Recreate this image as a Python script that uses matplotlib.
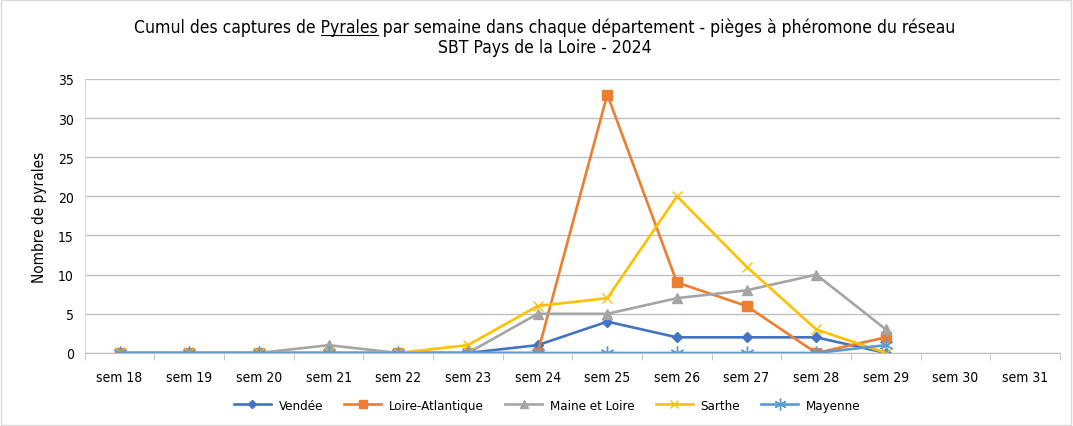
import numpy as np
import matplotlib
matplotlib.use("Agg")
import matplotlib.pyplot as plt
from matplotlib.lines import Line2D

plt.rcParams['font.family'] = ['DejaVu Sans']
plt.rcParams['font.stretch'] = 'condensed'

weeks = ["sem 18", "sem 19", "sem 20", "sem 21", "sem 22", "sem 23", "sem 24",
         "sem 25", "sem 26", "sem 27", "sem 28", "sem 29", "sem 30", "sem 31"]

vendee = [0, 0, 0, 0, 0, 0, 1, 4, 2, 2, 2, 0]
loire_atl = [0, 0, 0, 0, 0, 0, 0, 33, 9, 6, 0, 2]
maine_loire = [0, 0, 0, 1, 0, 0, 5, 5, 7, 8, 10, 3]
sarthe = [0, 0, 0, 0, 0, 1, 6, 7, 20, 11, 3, 0]
mayenne = [0, 0, 0, 0, 0, 0, 0, 0, 0, 0, 0, 1]

series = [
    ("Vendée", vendee, "#4472C4", "D", 5),
    ("Loire-Atlantique", loire_atl, "#ED7D31", "s", 7),
    ("Maine et Loire", maine_loire, "#A5A5A5", "^", 7),
    ("Sarthe", sarthe, "#FFC000", "x", 7),
    ("Mayenne", mayenne, "#5B9BD5", (6, 2, 0), 10),
]

fig = plt.figure(figsize=(10.73, 4.27), dpi=100)
ax = fig.add_axes([0.079, 0.171, 0.909, 0.642])

x = np.arange(len(weeks))
for name, vals, col, mk, ms in series:
    ax.plot(x[:len(vals)], vals, color=col, lw=1.9, marker=mk, markersize=ms,
            markeredgecolor=col, markerfacecolor=col, markeredgewidth=1.0, label=name)

ax.set_xlim(-0.5, len(weeks) - 0.5)
ax.set_ylim(0, 35)
ax.set_yticks(range(0, 36, 5))
ax.set_xticks(x)
ax.set_xticklabels(weeks)
ax.set_xticks(np.arange(-0.5, len(weeks)), minor=True)
ax.tick_params(axis='x', which='major', length=0, pad=12, labelsize=10)
ax.tick_params(axis='x', which='minor', length=5, color="#BFBFBF")
ax.tick_params(axis='y', length=0, labelsize=10, pad=8)
ax.yaxis.grid(True, color="#BFBFBF", lw=1)
ax.set_axisbelow(True)
for s in ["top", "right"]:
    ax.spines[s].set_visible(False)
ax.spines["left"].set_color("#D9D9D9")
ax.spines["bottom"].set_color("#BFBFBF")
ax.set_ylabel("Nombre de pyrales", fontsize=11, labelpad=8)

# title with underlined word
line1_pre = "Cumul des captures de "
line1_word = "Pyrales"
line1_post = " par semaine dans chaque département - pièges à phéromone du réseau"
title_line2 = "SBT Pays de la Loire - 2024"
tsize = 12.6
t1 = fig.text(0.508, 0.934, line1_pre + line1_word + line1_post, ha="center", va="center", fontsize=tsize)
fig.text(0.508, 0.887, title_line2, ha="center", va="center", fontsize=tsize)
fig.canvas.draw()
r = fig.canvas.get_renderer()
bb = t1.get_window_extent(r)
tmp = fig.text(0, 0, line1_pre, fontsize=tsize)
w_pre = tmp.get_window_extent(r).width
tmp.set_text(line1_pre + line1_word)
w_word = tmp.get_window_extent(r).width
tmp.remove()
W, H = fig.bbox.width, fig.bbox.height
x0 = (bb.x0 + w_pre) / W
x1 = (bb.x0 + w_word) / W
yl = (bb.y0 + 1) / H
fig.add_artist(Line2D([x0, x1], [yl, yl], color="black", lw=0.8))

fig.legend(loc="center", bbox_to_anchor=(0.51, 0.048), ncol=5, frameon=False,
           fontsize=9.5, handlelength=2.8, columnspacing=1.6, handletextpad=0.6,
           markerscale=0.85)

fig.patches.append(plt.Rectangle((0.001, 0.002), 0.997, 0.995, transform=fig.transFigure,
                                 fill=False, edgecolor="#D9D9D9", lw=1))

fig.savefig("out.png", dpi=100)
